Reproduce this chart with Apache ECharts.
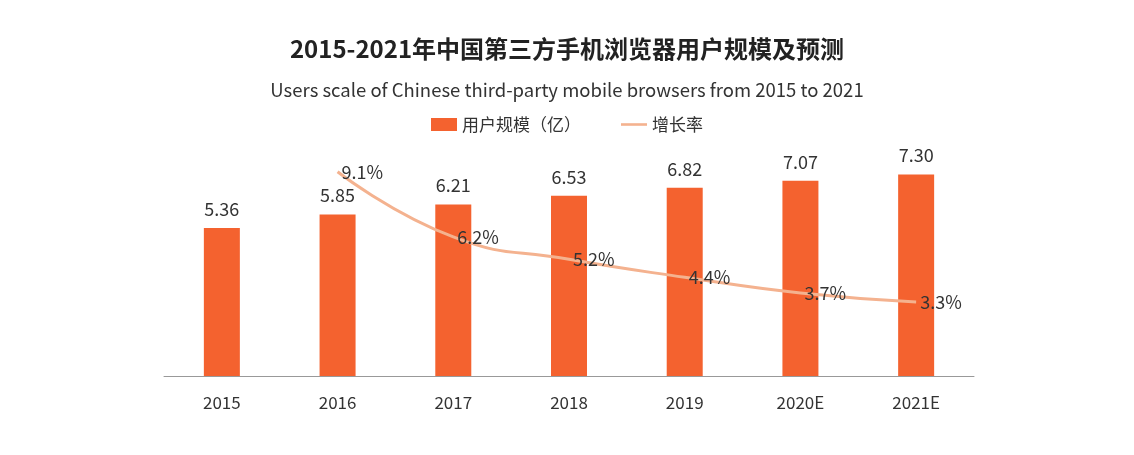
<!DOCTYPE html>
<html><head><meta charset="utf-8">
<script src="https://cdn.jsdelivr.net/npm/echarts@6/dist/echarts.min.js"></script>
<style>html,body{margin:0;padding:0;background:#fff}#c{width:1134px;height:455px}</style>
</head><body><div id="c"></div>
<script>
const categories = ['2015','2016','2017','2018','2019','2020E','2021E'];
const users = [5.36,5.85,6.21,6.53,6.82,7.07,7.30];
const growth = [null,9.1,6.2,5.2,4.4,3.7,3.3];
const chart = echarts.init(document.getElementById('c'));
const font = '"Noto Sans CJK SC","Noto Sans",sans-serif';
chart.setOption({
  animation:false,
  textStyle:{fontFamily:font},
  title:[
    {text:'2015-2021年中国第三方手机浏览器用户规模及预测',left:'center',top:32,textStyle:{fontSize:24,fontWeight:'bold',color:'#222',fontFamily:font}},
    {text:'Users scale of Chinese third-party mobile browsers from 2015 to 2021',left:'center',top:76,textStyle:{fontSize:18.5,fontWeight:'normal',color:'#333',fontFamily:font}}
  ],
  legend:{top:111,left:'center',itemGap:40,itemWidth:26,itemHeight:13,textStyle:{fontSize:17,color:'#333'},
    data:[{name:'用户规模（亿）',icon:'rect'},{name:'增长率',icon:'path://M0,0L30,0L30,3L0,3Z',itemHeight:3}]},
  grid:{left:164,right:160,top:100,bottom:79},
  xAxis:{type:'category',data:categories,axisTick:{show:false},
    axisLine:{lineStyle:{color:'#999'}},axisLabel:{fontSize:17,color:'#333',margin:18}},
  yAxis:[{type:'value',min:0,max:10,show:false,splitLine:{show:false}},
         {type:'value',min:0,max:12.3,show:false,splitLine:{show:false}}],
  series:[
    {name:'用户规模（亿）',type:'bar',data:users,barWidth:36,itemStyle:{color:'#f4622f'},
     label:{show:true,position:'top',distance:10,fontSize:18,color:'#333',formatter:p=>p.value.toFixed(2)}},
    {name:'增长率',type:'line',yAxisIndex:1,data:growth,smooth:true,showSymbol:true,symbol:'circle',symbolSize:0,
     lineStyle:{color:'#f4b28f',width:3},itemStyle:{color:'#f4b28f'},
     label:{show:true,position:'right',distance:4,fontSize:18,color:'#333',formatter:p=>p.value.toFixed(1)+'%'}}
  ]
});
</script></body></html>
